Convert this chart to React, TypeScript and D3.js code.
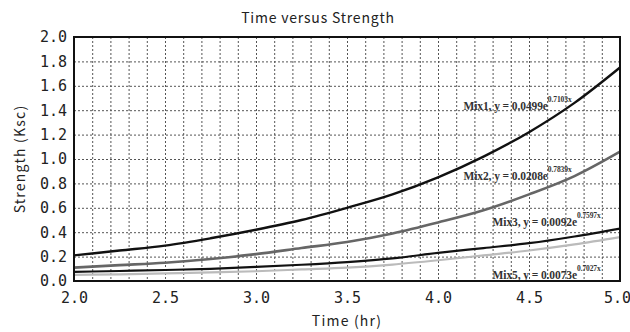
import { useEffect, useRef } from 'react';
import * as d3 from 'd3';

// Values
const times = [2.0, 2.25, 2.5, 2.75, 3.0, 3.25, 3.5, 3.75, 4.0, 4.25, 4.5, 4.75, 5.0];
const mix1 = [0.21, 0.25, 0.29, 0.35, 0.42, 0.5, 0.6, 0.71, 0.85, 1.02, 1.22, 1.46, 1.75];
const mix2 = [0.11, 0.13, 0.15, 0.18, 0.22, 0.27, 0.32, 0.39, 0.48, 0.58, 0.71, 0.86, 1.06];
const mix3 = [0.075, 0.082, 0.09, 0.1, 0.115, 0.133, 0.155, 0.185, 0.23, 0.27, 0.31, 0.365, 0.43];
const mix5 = [0.05, 0.055, 0.062, 0.07, 0.08, 0.095, 0.11, 0.135, 0.17, 0.21, 0.25, 0.3, 0.36];

const xTicks = [2.0, 2.5, 3.0, 3.5, 4.0, 4.5, 5.0];
const yTicks = [0, 0.2, 0.4, 0.6, 0.8, 1.0, 1.2, 1.4, 1.6, 1.8, 2.0];

const seriesNames = ['Mix1', 'Mix2', 'Mix3', 'Mix5'];
const seriesValues = [mix1, mix2, mix3, mix5];
const coefficients = ['0.0499', '0.0208', '0.0092', '0.0073'];
const exponents = ['0.7103x', '0.7839x', '0.7597x', '0.7027x'];
// where each equation label sits, in data units (time, strength)
const labelAnchors = [[4.14, 1.4], [4.14, 0.83], [4.3, 0.45], [4.3, 0.02]];

const App = () => {
  const chartRef = useRef<SVGSVGElement>(null);

  useEffect(() => {
    document.body.style.margin = '0';
    if (!chartRef.current) return;

    const svg = d3.select(chartRef.current);
    svg.selectAll('*').remove();

    const W = 630;
    const H = 332;
    const margin = { top: 37, right: 10, bottom: 51, left: 74 };
    const width = W - margin.left - margin.right;
    const height = H - margin.top - margin.bottom;

    const g = svg.append('g').attr('transform', `translate(${margin.left},${margin.top})`);

    const x = d3.scaleLinear().domain([2, 5]).range([0, width]);
    const y = d3.scaleLinear().domain([0, 2]).range([height, 0]);

    const tickFont = '"DejaVu Sans Mono", monospace';
    const labelFont = '"Noto Sans CJK JP", "DejaVu Sans", sans-serif';

    // Dotted grid: every 0.1 hr vertically, every 0.2 Ksc horizontally
    g.append('g')
      .call(d3.axisBottom(x).tickValues(d3.range(2.1, 4.95, 0.1)).tickSize(height).tickFormat(() => ''))
      .call(s => s.select('.domain').remove())
      .call(s => s.selectAll('.tick line')
        .attr('stroke', '#555')
        .attr('stroke-width', 1)
        .attr('stroke-dasharray', '2,2'));

    g.append('g')
      .call(d3.axisLeft(y).tickValues(yTicks.slice(1, -1)).tickSize(-width).tickFormat(() => ''))
      .call(s => s.select('.domain').remove())
      .call(s => s.selectAll('.tick line')
        .attr('stroke', '#555')
        .attr('stroke-width', 1)
        .attr('stroke-dasharray', '2,2'));

    // Series lines
    const colors = ['#111', '#666', '#111', '#bbb'];
    const widths = [2.4, 2.6, 2.2, 2.2];
    const line = d3.line<number>()
      .x((_, i) => x(times[i]))
      .y(d => y(d))
      .curve(d3.curveMonotoneX);

    seriesValues.forEach((vals, i) => {
      g.append('path')
        .datum(vals)
        .attr('fill', 'none')
        .attr('stroke', colors[i])
        .attr('stroke-width', widths[i])
        .attr('d', line);
    });

    // Equation labels
    seriesNames.forEach((name, i) => {
      const [lx, ly] = labelAnchors[i];
      const t = g.append('text')
        .attr('x', x(lx))
        .attr('y', y(ly))
        .style('font-family', '"Liberation Serif", serif')
        .style('font-size', '11.5px')
        .style('font-weight', 'bold')
        .style('letter-spacing', '-0.1px')
        .style('fill', '#333');
      t.append('tspan').text(`${name}, y = ${coefficients[i]}e`);
      t.append('tspan')
        .attr('dy', -8)
        .style('font-size', '7.5px')
        .text(exponents[i]);
    });

    // Frame
    g.append('rect')
      .attr('width', width)
      .attr('height', height)
      .attr('fill', 'none')
      .attr('stroke', '#111')
      .attr('stroke-width', 2);

    // Y tick labels
    g.append('g')
      .call(d3.axisLeft(y).tickValues(yTicks).tickSize(0).tickPadding(7).tickFormat(d3.format('.1f')))
      .call(s => s.select('.domain').remove())
      .call(s => s.selectAll('text')
        .style('font-family', tickFont)
        .style('font-size', '15px')
        .style('fill', '#222'));

    // X tick labels
    g.append('g')
      .attr('transform', `translate(0,${height})`)
      .call(d3.axisBottom(x).tickValues(xTicks).tickSize(0).tickPadding(11).tickFormat(d3.format('.1f')))
      .call(s => s.select('.domain').remove())
      .call(s => s.selectAll('text')
        .style('font-family', tickFont)
        .style('font-size', '15px')
        .style('fill', '#222'))
      .call(s => s.selectAll('text').filter(d => d === 5).attr('dx', -3));

    // Titles
    svg.append('text')
      .attr('x', 318)
      .attr('y', 23)
      .attr('text-anchor', 'middle')
      .style('font-family', labelFont)
      .style('font-size', '14px')
      .style('letter-spacing', '0.8px')
      .style('fill', '#222')
      .text('Time versus Strength');

    svg.append('text')
      .attr('x', margin.left + width / 2)
      .attr('y', 326)
      .attr('text-anchor', 'middle')
      .style('font-family', labelFont)
      .style('font-size', '14px')
      .style('letter-spacing', '1.2px')
      .style('fill', '#222')
      .text('Time (hr)');

    svg.append('text')
      .attr('transform', `translate(25,${margin.top + height / 2}) rotate(-90)`)
      .attr('text-anchor', 'middle')
      .style('font-family', labelFont)
      .style('font-size', '14px')
      .style('letter-spacing', '1.2px')
      .style('fill', '#222')
      .text('Strength (Ksc)');
  }, []);

  return (
    <svg ref={chartRef} width={630} height={332} style={{ display: 'block', background: '#fff' }} />
  );
};

export default App;
